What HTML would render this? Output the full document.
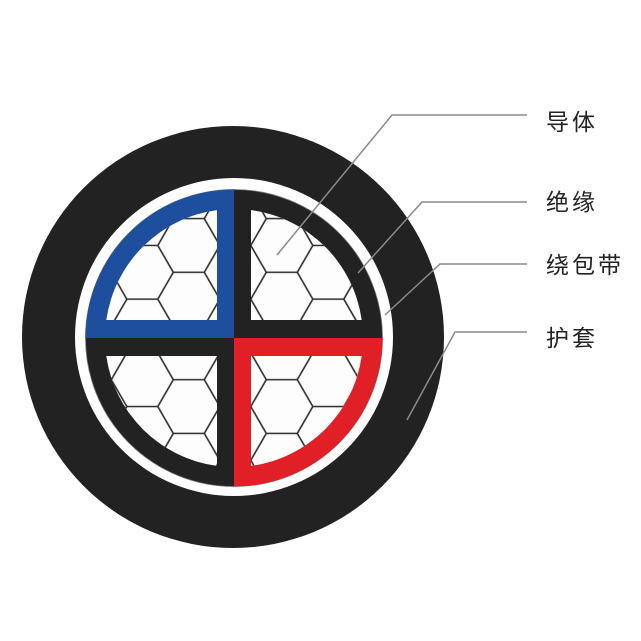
<!DOCTYPE html>
<html><head><meta charset="utf-8"><style>
html,body{margin:0;padding:0;background:#fff;}
svg{display:block;}
text{font-family:"Liberation Sans","Noto Sans CJK SC",sans-serif;font-size:23px;fill:#222;letter-spacing:3px;}
</style></head><body>
<svg width="641" height="641" viewBox="0 0 641 641" xmlns="http://www.w3.org/2000/svg">
<defs>
<pattern id="hex" patternUnits="userSpaceOnUse" x="142.3" y="272.3" width="93" height="53.7">
<path d="M15.5,26.85 L31,0 L62,0 L77.5,26.85 L62,53.7 L31,53.7 Z M0,26.85 L15.5,26.85 M77.5,26.85 L93,26.85" fill="none" stroke="#2a2a2a" stroke-width="1.6"/>
</pattern>
</defs>
<rect width="641" height="641" fill="#fff"/>
<circle cx="233" cy="337" r="211" fill="#222"/>
<circle cx="234" cy="337" r="159" fill="#fff"/>
<circle cx="234" cy="338" r="148.5" fill="#222" stroke="#777" stroke-width="0.8"/>
<path d="M234,338 L85.5,338 A148.5,148.5 0 0 1 234,189.5 Z" fill="#1d4f9e"/>
<path d="M234,338 L382.5,338 A148.5,148.5 0 0 1 234,486.5 Z" fill="#e01f26"/>
<g fill="#fdfdfd">
<path d="M217,320 L217,210.1 A129,129 0 0 0 106.3,320 Z"/>
<path d="M251,320 L251,210.1 A129,129 0 0 1 361.7,320 Z"/>
<path d="M217,356 L217,465.9 A129,129 0 0 1 106.3,356 Z"/>
<path d="M251,356 L251,465.9 A129,129 0 0 0 361.7,356 Z"/>
</g>
<g fill="url(#hex)">
<path d="M217,320 L217,210.1 A129,129 0 0 0 106.3,320 Z"/>
<path d="M251,320 L251,210.1 A129,129 0 0 1 361.7,320 Z"/>
<path d="M217,356 L217,465.9 A129,129 0 0 1 106.3,356 Z"/>
<path d="M251,356 L251,465.9 A129,129 0 0 0 361.7,356 Z"/>
</g>
<g fill="none" stroke="#8a8a8a" stroke-width="1.5">
<polyline points="277,255 392,115 527,115"/>
<polyline points="358,273 422,202 527,202"/>
<polyline points="385,315 440,264 527,264"/>
<polyline points="407,420 455,332 527,332"/>
</g>
<text x="546" y="130">导体</text>
<text x="546" y="210">绝缘</text>
<text x="546" y="273">绕包带</text>
<text x="546" y="346">护套</text>
</svg>
</body></html>
